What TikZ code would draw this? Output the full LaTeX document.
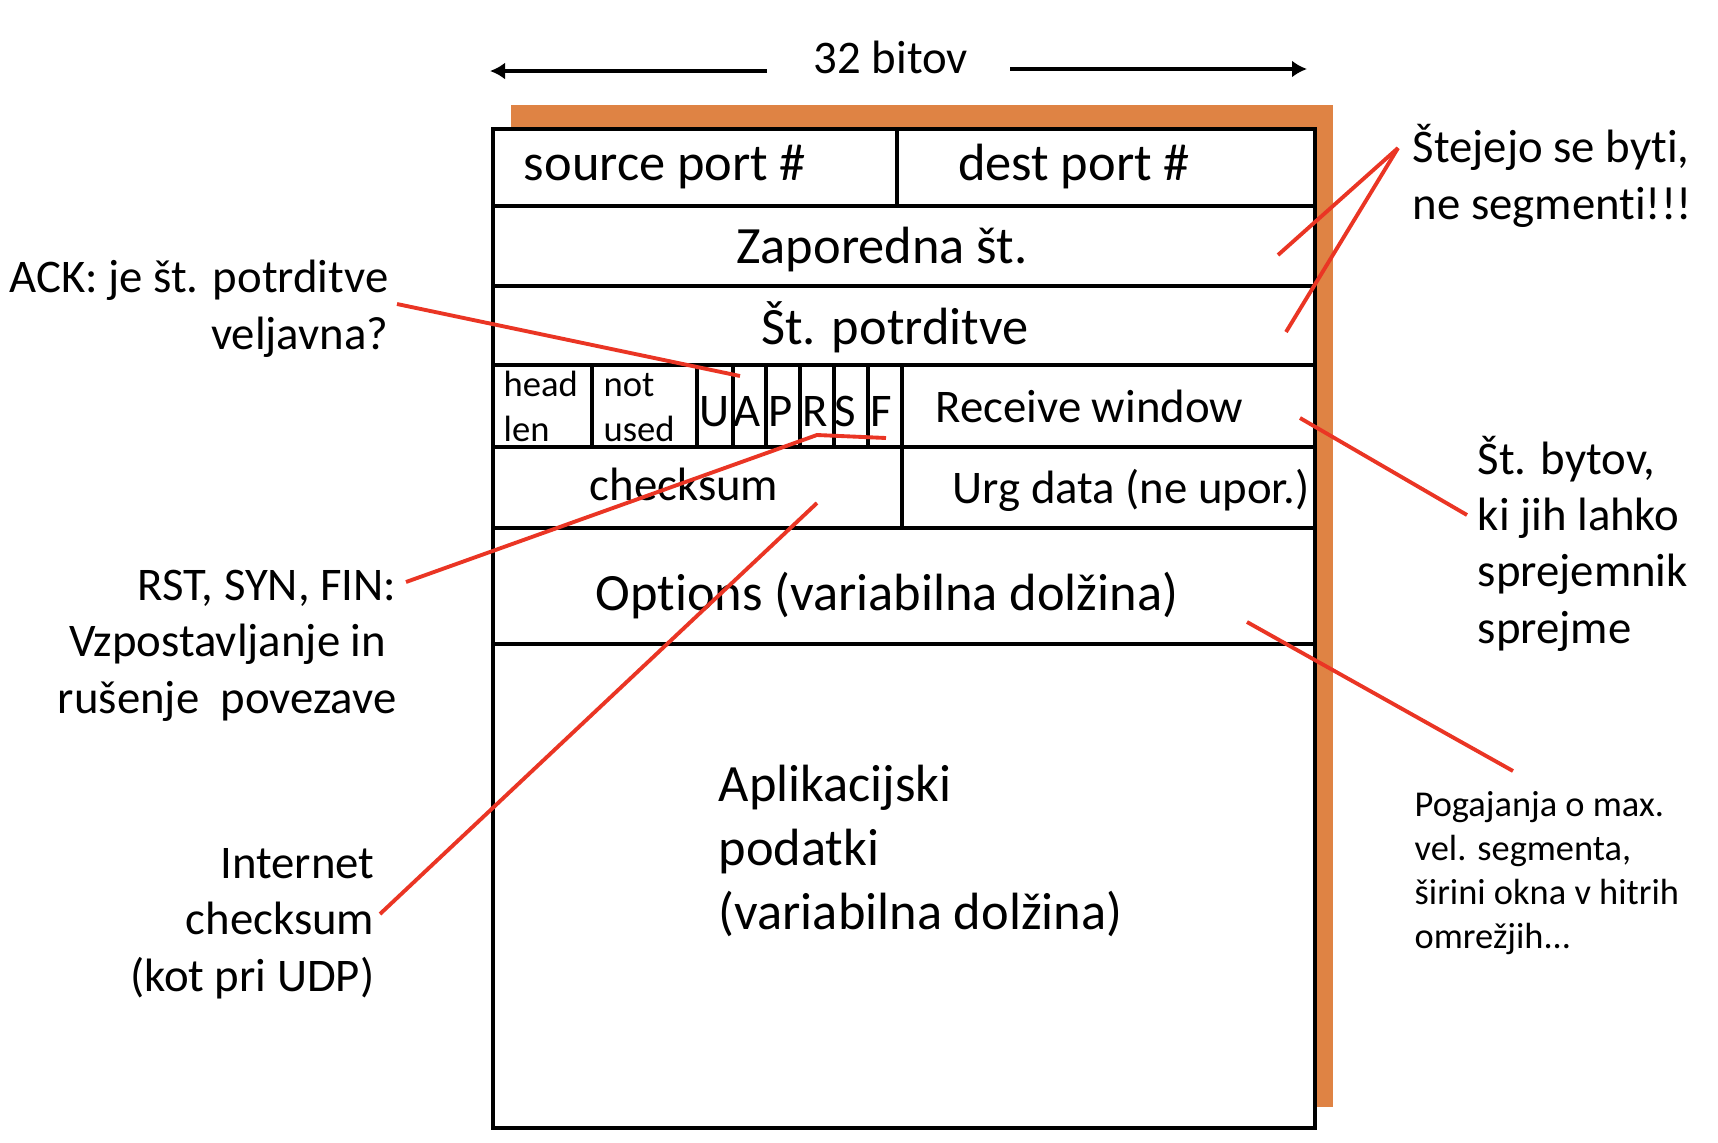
\documentclass[tikz,border=0pt]{standalone}
\usepackage{fontspec}
\setmainfont{Carlito}[Ligatures=NoCommon]
\usetikzlibrary{arrows.meta}

\definecolor{segorange}{RGB}{223,131,68}
\definecolor{notered}{RGB}{234,53,36}

\tikzset{
  bigfield/.style={font=\fontsize{14.9}{18.1}\selectfont, inner sep=0pt},
  field/.style={font=\fontsize{13.3}{15.8}\selectfont, inner sep=0pt},
  smallfield/.style={font=\fontsize{10.4}{12.6}\selectfont, inner sep=0pt, align=left},
  note/.style={font=\fontsize{13.3}{16}\selectfont, inner sep=0pt},
  smallnote/.style={font=\fontsize{10.35}{12.5}\selectfont, inner sep=0pt, align=left},
  pointer/.style={draw=notered, line width=1.1pt},
  rule/.style={line width=1.15pt},
}

\begin{document}
\begin{tikzpicture}[x=0.01cm, y=-0.01cm]
    \useasboundingbox (0,0) rectangle (1718,1142);

    % 32 bitov
    \node[field, anchor=base] (width) at (891,73) {32 bitov};
    \coordinate (wlfrom) at (767,71);
    \coordinate (wlto) at (490,71);
    \coordinate (wrfrom) at (1010,69);
    \coordinate (wrto) at (1307,69);
    \draw[line width=1.3pt, -{Latex[length=0.15cm, width=0.17cm]}] (wlfrom) -- (wlto);
    \draw[line width=1.3pt, -{Latex[length=0.15cm, width=0.17cm]}] (wrfrom) -- (wrto);

    % segment
    \fill[segorange] (511,105) rectangle (1333,1107);
    \draw[fill=white, line width=1.35pt] (493,129) rectangle (1315,1128);
    \foreach \y in {206,286,365,447,528,644}
        \draw[rule] (493,\y) -- (1315,\y);
    \draw[rule] (897,129) -- (897,206);
    \foreach \x in {592,697,733,766,800,834,868}
        \draw[rule] (\x,365) -- (\x,447);
    \draw[rule] (902,365) -- (902,528);

    % fields
    \node[bigfield, anchor=base] (srcport) at (665,180) {source port \#};
    \node[bigfield, anchor=base] (dstport) at (1074,180) {dest port \#};
    \node[bigfield, anchor=base] (seqnum) at (882,263) {Zaporedna št.};
    \node[bigfield, anchor=base] (acknum) at (895,344) {Št. potrditve};
    \node[smallfield, anchor=base west] (hlen) at (503,441) {head\\len};
    \node[smallfield, anchor=base west] (unused) at (603,441) {not\\used};
    \foreach \f/\x in {U/714,A/747,P/781,R/815,S/845,F/881}
        \node[field, anchor=base] (flag\f) at (\x,426) {\f};
    \node[field, anchor=base west] (rwnd) at (935,422) {Receive window};
    \node[field, anchor=base] (csum) at (684,500) {checksum};
    \node[field, anchor=base west] (urg) at (952,503) {Urg data (ne upor.)};
    \node[bigfield, anchor=base] (opts) at (887,610) {Options (variabilna dolžina)};
    \node[bigfield, anchor=base west, align=left] (data) at (718,929)
        {Aplikacijski\\podatki\\(variabilna dolžina)};

    % notes left
    \node[note, anchor=base east, align=right] (acknote) at (389,349)
        {ACK: je št. potrditve\\veljavna?};
    \node[note, anchor=base east, align=right] (rstnote) at (397,713)
        {RST, SYN, FIN:\\Vzpostavljanje in\kern0.1cm\\rušenje~~povezave};
    \node[note, anchor=base east, align=right] (csumnote) at (375,991)
        {Internet\\checksum\\(kot pri UDP)};

    % notes right
    \node[note, anchor=base west, align=left] (bytenote) at (1412,219)
        {Štejejo se byti,\\ne segmenti!!!};
    \node[note, anchor=base west, align=left] (rwndnote) at (1477,643)
        {Št. bytov,\\ki jih lahko\\sprejemnik\\sprejme};
    \node[smallnote, anchor=base west] (optsnote) at (1414,948)
        {Pogajanja o max.\\vel. segmenta,\\širini okna v hitrih\\omrežjih...};

    % pointers
    \coordinate (ackp) at (397,304);
    \coordinate (ackq) at (740,376);
    \coordinate (rstp) at (406,582);
    \coordinate (rstk) at (817,435);
    \coordinate (rstq) at (886,438);
    \coordinate (csump) at (380,914);
    \coordinate (csumq) at (817,503);
    \coordinate (bytep) at (1398,148);
    \coordinate (seqq) at (1278,255);
    \coordinate (ackfq) at (1286,332);
    \coordinate (rwndp) at (1467,515);
    \coordinate (rwndq) at (1300,418);
    \coordinate (optsp) at (1513,771);
    \coordinate (optsq) at (1247,622);

    \draw[pointer] (ackp) -- (ackq);
    \draw[pointer] (rstp) -- (rstk) -- (rstq);
    \draw[pointer] (csump) -- (csumq);
    \draw[pointer] (bytep) -- (seqq);
    \draw[pointer] (bytep) -- (ackfq);
    \draw[pointer] (rwndp) -- (rwndq);
    \draw[pointer] (optsp) -- (optsq);

\end{tikzpicture}
\end{document}
